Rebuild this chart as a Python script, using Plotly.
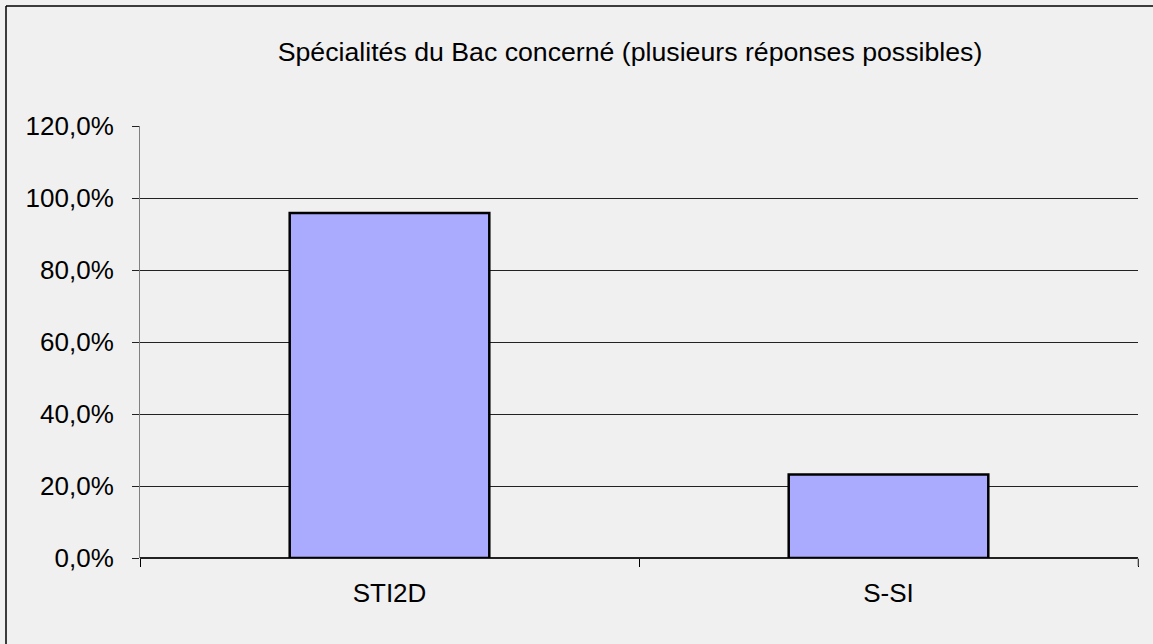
import plotly.graph_objects as go

# Data
categories = ['STI2D', 'S-SI']
shares = [0.958, 0.232]
y_ticks = [0, 0.2, 0.4, 0.6, 0.8, 1.0, 1.2]

title_text = 'Spécialités du Bac concerné (plusieurs réponses possibles)'

W, H = 1153, 644
L, R, T, B = 140, 15, 126, 86
plot_w = W - L - R
plot_h = H - T - B

# outer chart border: only its top and left edges fall inside the picture
border_x = (6 - L) / plot_w
border_y = 1 + (T - 6) / plot_h

fig = go.Figure(
    go.Bar(
        x=categories,
        y=shares,
        marker=dict(color='#aaaaff', line=dict(color='#000000', width=2.5)),
        hoverinfo='skip',
    )
)

fig.update_layout(
    width=W,
    height=H,
    margin=dict(l=L, r=R, t=T, b=B),
    paper_bgcolor='#f0f0f0',
    plot_bgcolor='#f0f0f0',
    separators=', ',
    bargap=0.6,
    showlegend=False,
    font=dict(family='Liberation Sans, Arial, sans-serif', size=26, color='#000000'),
    title=dict(
        text=title_text,
        x=630 / W,
        xanchor='center',
        y=1 - 52 / H,
        yanchor='middle',
        font=dict(size=26.7),
    ),
    xaxis=dict(
        type='category',
        showgrid=False,
        ticks='outside',
        tickson='boundaries',
        ticklen=8,
        tickcolor='#000000',
        showline=False,
        ticklabelstandoff=17,
    ),
    yaxis=dict(
        range=[0, 1.2],
        tickvals=y_ticks,
        tickformat='.1%',
        showgrid=True,
        gridcolor='#222222',
        gridwidth=1,
        zeroline=True,
        zerolinecolor='#222222',
        zerolinewidth=1.5,
        showline=True,
        linecolor='#808080',
        linewidth=1,
        ticks='outside',
        ticklen=7,
        tickcolor='#222222',
        ticklabelstandoff=13,
    ),
    shapes=[
        dict(
            type='line', xref='paper', yref='paper',
            x0=border_x, x1=1 + (R + 5) / plot_w, y0=border_y, y1=border_y,
            line=dict(color='#000000', width=1.5),
        ),
        dict(
            type='line', xref='paper', yref='paper',
            x0=border_x, x1=border_x, y0=border_y, y1=-(B + 5) / plot_h,
            line=dict(color='#000000', width=1.5),
        ),
        # right-end tick of the category axis
        dict(
            type='line', xref='paper', yref='paper',
            x0=1, x1=1, y0=0, y1=-8 / plot_h,
            line=dict(color='#808080', width=1),
        ),
    ],
)

# drop the page's default body margin so the figure sits at the window's corner
fig.write_html(
    'out.html',
    config={'displayModeBar': False},
    post_script="document.body.style.margin='0'; document.body.style.overflow='hidden';",
)
